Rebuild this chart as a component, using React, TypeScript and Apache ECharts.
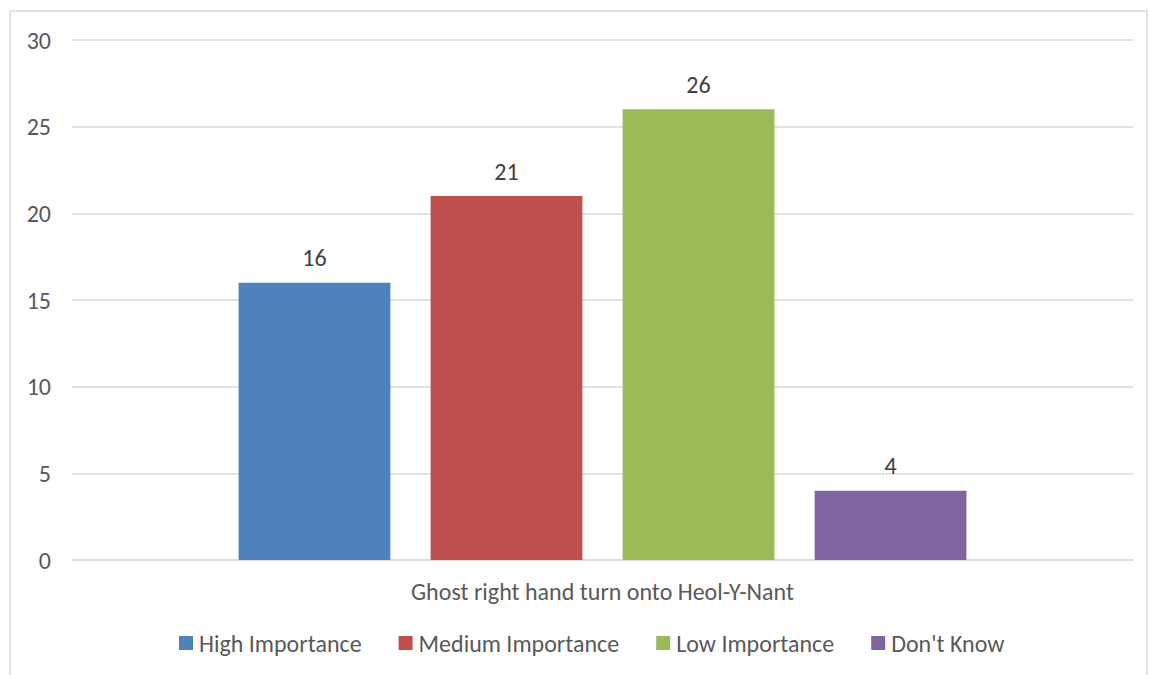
import React, { useEffect, useRef } from "react";
import * as echarts from "echarts";

const categories = ["Ghost right hand turn onto Heol-Y-Nant"];
const seriesNames = ["High Importance", "Medium Importance", "Low Importance", "Don't Know"];
const seriesValues = [[16], [21], [26], [4]];
const seriesColors = ["#4F81BD", "#C0504D", "#9BBB59", "#8064A2"];
const yTicks = { min: 0, max: 30, interval: 5 };

const FONT = "Carlito, 'Noto Sans', sans-serif";
const FS = 24;

export default function App() {
  const ref = useRef<HTMLDivElement>(null);
  useEffect(() => {
    document.body.style.margin = "0";
    const chart = echarts.init(ref.current!, null, { renderer: "svg" });
    chart.setOption({
      animation: false,
      backgroundColor: "#ffffff",
      textStyle: { fontFamily: FONT },
      graphic: [
        {
          type: "rect",
          shape: { x: 10, y: 11, width: 1137, height: 700 },
          style: { fill: "none", stroke: "#d9d9d9", lineWidth: 1.5 },
          silent: true,
        },
      ],
      grid: { left: 72, right: 16, top: 40, bottom: 115 },
      legend: {
        top: 626,
        left: 174,
        itemWidth: 14,
        itemHeight: 14,
        itemGap: 37,
        icon: "rect",
        textStyle: { fontSize: FS, color: "#595959", fontFamily: FONT, padding: [0, 0, 0, 1] },
        data: seriesNames,
      },
      xAxis: {
        type: "category",
        data: categories,
        axisLine: { show: true, lineStyle: { color: "#d9d9d9", width: 1.5 } },
        axisTick: { show: false },
        axisLabel: { fontSize: FS, color: "#595959", margin: 19, fontFamily: FONT },
      },
      yAxis: {
        type: "value",
        min: yTicks.min,
        max: yTicks.max,
        interval: yTicks.interval,
        axisLine: { show: false },
        axisTick: { show: false },
        splitLine: { lineStyle: { color: "#d9d9d9", width: 1.5 } },
        axisLabel: { fontSize: FS, color: "#595959", margin: 21, fontFamily: FONT },
      },
      series: seriesNames.map((name, i) => ({
        name,
        type: "bar",
        data: seriesValues[i],
        barGap: "26.5%",
        barCategoryGap: "31.4%",
        itemStyle: { color: seriesColors[i] },
        label: {
          show: true,
          position: "top",
          distance: 13,
          fontSize: FS,
          color: "#404040",
          fontFamily: FONT,
        },
      })),
    });
    return () => chart.dispose();
  }, []);
  return <div ref={ref} style={{ width: 1149, height: 675 }} />;
}
